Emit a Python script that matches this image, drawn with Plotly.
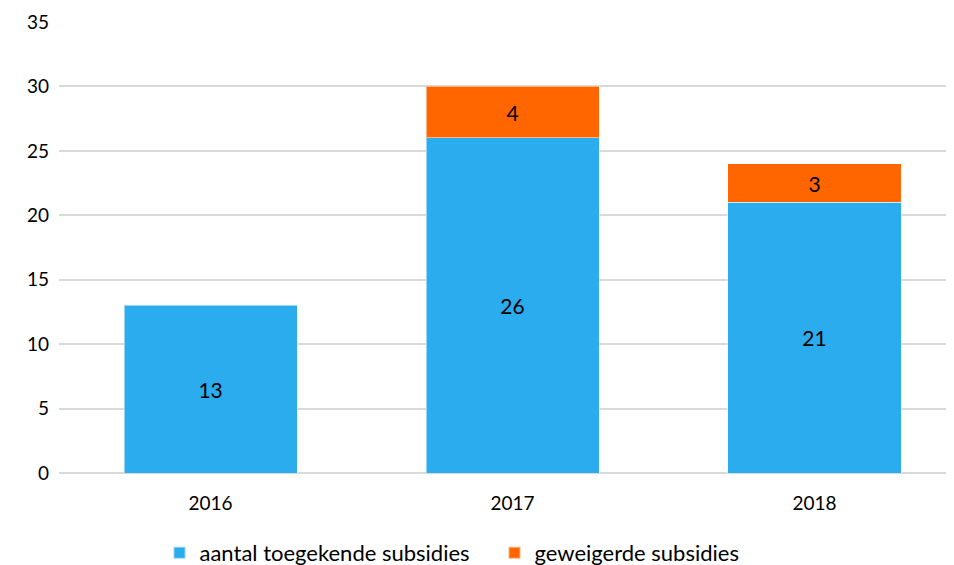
import plotly.graph_objects as go

years = ["2016", "2017", "2018"]
toegekend = [13, 26, 21]
geweigerd = [None, 4, 3]
series_names = ["aantal toegekende subsidies", "geweigerde subsidies"]
colors = ["#2BACEE", "#FF6600"]
y_ticks = [0, 5, 10, 15, 20, 25, 30, 35]

font_family = "Lato, Carlito, 'Open Sans', sans-serif"

fig = go.Figure()
for name, vals, col in zip(series_names, [toegekend, geweigerd], colors):
    fig.add_trace(go.Bar(
        x=years, y=vals, name=name,
        marker=dict(color=col, line=dict(color="rgba(255,255,255,0.5)", width=1)),
        text=[("" if v is None else str(v)) for v in vals],
        textposition="inside", insidetextanchor="middle",
        textfont=dict(size=21, color="#000000", family=font_family),
        textangle=0,
        cliponaxis=False,
    ))

fig.update_layout(
    barmode="stack",
    bargap=0.427,
    width=946, height=557,
    margin=dict(l=51, r=0, t=14, b=92, autoexpand=False),
    plot_bgcolor="white", paper_bgcolor="white",
    font=dict(family=font_family, size=19, color="#000000"),
    uniformtext=dict(mode=False),
    xaxis=dict(showline=False, ticks="", tickfont=dict(size=19), ticklabelstandoff=17,
               automargin=False, range=[-0.502, 2.462]),
    yaxis=dict(range=[0, 35], tickvals=y_ticks, showgrid=True,
               gridcolor="#D9D9D9", gridwidth=1.5, zeroline=True,
               zerolinecolor="#D9D9D9", zerolinewidth=1.5,
               tickfont=dict(size=19), ticks="", ticklabelstandoff=9, automargin=False),
    legend=dict(orientation="h", x=0.4866, xanchor="center", y=-0.177, yanchor="middle",
                font=dict(size=22), itemsizing="constant", traceorder="normal",
                entrywidth=290, entrywidthmode="pixels"),
    showlegend=True,
)

fig.write_html("out.html")
